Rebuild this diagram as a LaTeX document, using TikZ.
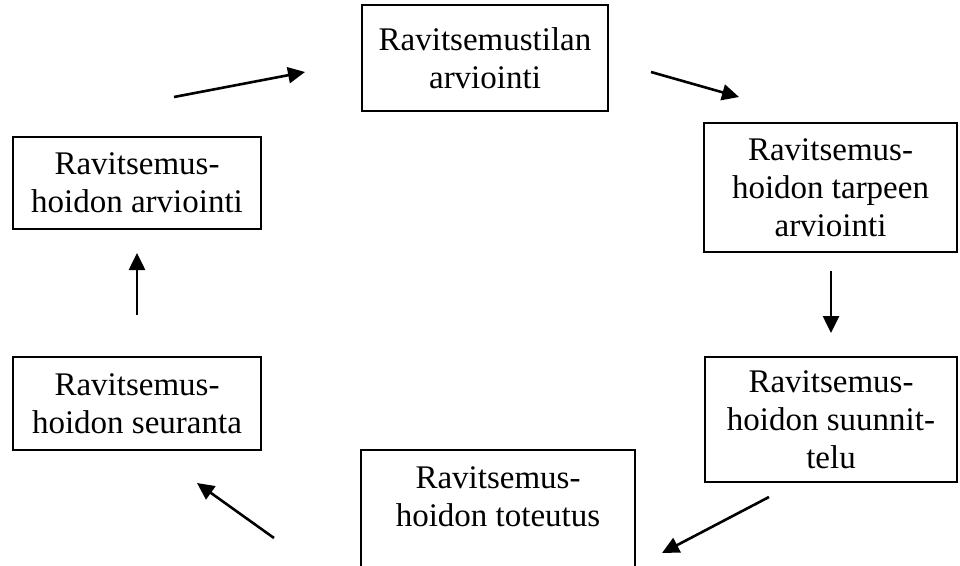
\documentclass[tikz,border=0pt]{standalone}
\usepackage{fontspec}
\setmainfont{Liberation Serif}
\usetikzlibrary{arrows.meta,calc}
\tikzset{
  box/.style={draw, line width=1.8pt, align=center, inner sep=0pt,
    font=\fontsize{33}{38}\selectfont},
  flow/.style={line width=2.6pt, -{Triangle[length=17pt,width=16pt]}}
}
\begin{document}
\begin{tikzpicture}[x=1pt,y=-1pt]
\useasboundingbox (0,0) rectangle (960,565);
\clip (0,0) rectangle (960,565);
\node[box, minimum width=246, minimum height=106] (b1) at (485,58) {Ravitsemustilan\\arviointi};
\node[box, minimum width=253, minimum height=129] (b2) at (830.5,187.5) {Ravitsemus-\\hoidon tarpeen\\arviointi};
\node[box, minimum width=252, minimum height=125] (b3) at (831,419.5) {Ravitsemus-\\hoidon suunnit-\\telu};
\node[box, draw=none, minimum width=272, minimum height=92] (b4) at (498,497) {Ravitsemus-\\hoidon toteutus};
\draw[line width=1.8pt] ($(b4.south west)+(0,50)$) -- (b4.north west) -- (b4.north east) -- ($(b4.south east)+(0,50)$);
\node[box, minimum width=248, minimum height=93] (b5) at (137,403.5) {Ravitsemus-\\hoidon seuranta};
\node[box, minimum width=248, minimum height=92] (b6) at (137,183) {Ravitsemus-\\hoidon arviointi};
\coordinate (a1s) at (174,97);  \coordinate (a1e) at (305,72);
\coordinate (a2s) at (651,72);  \coordinate (a2e) at (739,97);
\coordinate (a3s) at (831,271); \coordinate (a3e) at (831,333);
\coordinate (a4s) at (769,497); \coordinate (a4e) at (662,553);
\coordinate (a5s) at (274,538); \coordinate (a5e) at (197,483);
\coordinate (a6s) at (137,315); \coordinate (a6e) at (137,253);
\draw[flow] (a1s) -- (a1e);
\draw[flow] (a2s) -- (a2e);
\draw[flow] (a3s) -- (a3e);
\draw[flow] (a4s) -- (a4e);
\draw[flow] (a5s) -- (a5e);
\draw[flow] (a6s) -- (a6e);
\end{tikzpicture}
\end{document}
